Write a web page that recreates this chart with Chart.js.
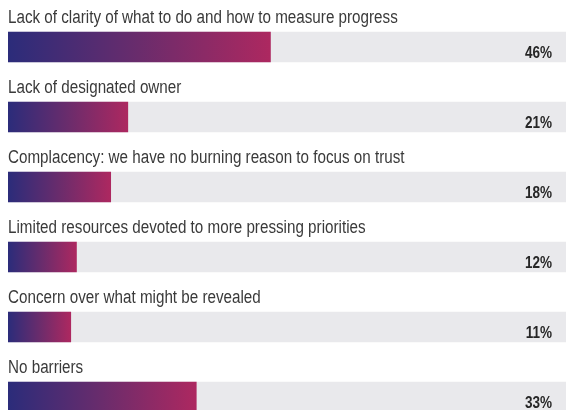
<!DOCTYPE html>
<html>
<head>
<meta charset="utf-8">
<script src="https://cdn.jsdelivr.net/npm/chart.js@4.4.0/dist/chart.umd.min.js"></script>
<style>
  html, body { margin: 0; padding: 0; background: #fff; overflow: hidden; }
  #wrap { width: 566px; height: 410px; overflow: hidden; }
</style>
</head>
<body>
<div id="wrap"><canvas id="myChart" width="566" height="440"></canvas></div>
<script>
// barriers and share of respondents (%)
var categories = [
  "Lack of clarity of what to do and how to measure progress",
  "Lack of designated owner",
  "Complacency: we have no burning reason to focus on trust",
  "Limited resources devoted to more pressing priorities",
  "Concern over what might be revealed",
  "No barriers"
];
var values = [46, 21, 18, 12, 11, 33];
var valueLabels = ["46%", "21%", "18%", "12%", "11%", "33%"];

var scaleMax = 97.8;
var track = categories.map(function () { return scaleMax; });

var labelFont = '18px "Liberation Sans", Arial, sans-serif';
var valueFont = 'bold 16px "Liberation Sans", Arial, sans-serif';
var squeeze = 0.845; // the original uses a condensed face

// label text above each bar, percentage at the right end of the track
var textPlugin = {
  id: 'barText',
  afterDatasetsDraw: function (chart) {
    var ctx = chart.ctx;
    var meta = chart.getDatasetMeta(0);
    var area = chart.chartArea;
    meta.data.forEach(function (bar, i) {
      var top = bar.y - bar.height / 2;
      var bottom = bar.y + bar.height / 2;

      ctx.save();
      ctx.translate(area.left, top - 9);
      ctx.scale(squeeze, 1);
      ctx.fillStyle = '#3a3a3a';
      ctx.font = labelFont;
      ctx.textAlign = 'left';
      ctx.fillText(categories[i], 0, 0);
      ctx.restore();

      ctx.save();
      ctx.translate(area.right - 14, bottom - 4);
      ctx.scale(squeeze, 1);
      ctx.fillStyle = '#262626';
      ctx.font = valueFont;
      ctx.textAlign = 'right';
      ctx.fillText(valueLabels[i], 0, 0);
      ctx.restore();
    });
  }
};

function barGradient(context) {
  var chart = context.chart;
  if (!chart.chartArea) return '#6a2c6e';
  var x = chart.scales.x;
  var x0 = x.getPixelForValue(0);
  var x1 = x.getPixelForValue(context.raw);
  var g = chart.ctx.createLinearGradient(x0, 0, x1, 0);
  g.addColorStop(0, '#2b2c7a');
  g.addColorStop(0.5, '#6a2c6c');
  g.addColorStop(1, '#ad2860');
  return g;
}

var ctx = document.getElementById('myChart').getContext('2d');
var myChart = new Chart(ctx, {
  type: 'bar',
  data: {
    labels: categories,
    datasets: [{
      label: 'Share',
      data: values,
      backgroundColor: barGradient,
      barThickness: 30,
      grouped: false,
      order: 0
    }, {
      label: 'Track',
      data: track,
      backgroundColor: '#e9e9ec',
      barThickness: 30,
      grouped: false,
      order: 1
    }]
  },
  options: {
    indexAxis: 'y',
    responsive: false,
    animation: false,
    layout: { padding: { left: 8, right: 0, top: 12, bottom: 8 } },
    plugins: {
      legend: { display: false },
      tooltip: { enabled: false }
    },
    scales: {
      x: { display: false, min: 0, max: scaleMax },
      y: { display: false, offset: true }
    }
  },
  plugins: [textPlugin]
});
</script>
</body>
</html>
